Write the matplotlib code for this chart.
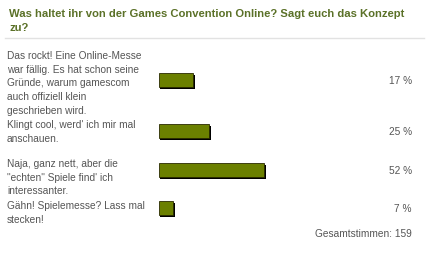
import matplotlib.pyplot as plt
import matplotlib.patheffects as pe

answers = [
    "Das rockt! Eine Online-Messe\nwar fällig. Es hat schon seine\nGründe, warum gamescom\nauch offiziell klein\ngeschrieben wird.",
    "Klingt cool, werd' ich mir mal\nanschauen.",
    "Naja, ganz nett, aber die\n\"echten\" Spiele find' ich\ninteressanter.",
    "Gähn! Spielemesse? Lass mal\nstecken!",
]
percent = [17, 25, 52, 7]
total_votes = 159
question = "Was haltet ihr von der Games Convention Online? Sagt euch das Konzept\nzu?"

# layout in pixels (figure is 430x258)
row_y = [80, 131, 170, 208]
label_top = [51, 120, 159, 201]
W, H = 430, 258
olive = "#6b8000"
txt = "#555555"

plt.rcParams['font.family'] = ['Liberation Sans', 'DejaVu Sans']

fig = plt.figure(figsize=(W / 100, H / 100), dpi=100)
ax = fig.add_axes([0, 0, 1, 1])
ax.set_xlim(0, W)
ax.set_ylim(H, 0)
ax.axis('off')

ax.text(9, 9, question, fontsize=8.1, fontweight='bold', color='#5b7128',
        va='top', ha='left', linespacing=1.5)
ax.plot([5, 424], [37.5, 37.5], color='#e2e2e2', lw=1)

for lab, top in zip(answers, label_top):
    ax.text(7, top, lab, fontsize=7.3, color=txt, va='top', ha='left', linespacing=1.46)

for p, y in zip(percent, row_y):
    ax.text(412, y + 1, f"{p} %", fontsize=7.3, color=txt, va='center', ha='right')

ax.text(412, 234, f"Gesamtstimmen: {total_votes}", fontsize=7.3, color=txt,
        va='center', ha='right')

# bars on their own percent axis
bx = fig.add_axes([158.5 / W, 0, 203 / W, 1])
bx.set_xlim(0, 100)
bx.set_ylim(H, 0)
bx.axis('off')
bars = bx.barh(row_y, percent, height=14.5, color=olive, edgecolor='#2a2a00', lw=0.6)
for b in bars:
    b.set_path_effects([pe.SimplePatchShadow(offset=(1.3, -1.3), shadow_rgbFace='black', alpha=1),
                        pe.Normal()])

fig.savefig("out.png", dpi=100)
